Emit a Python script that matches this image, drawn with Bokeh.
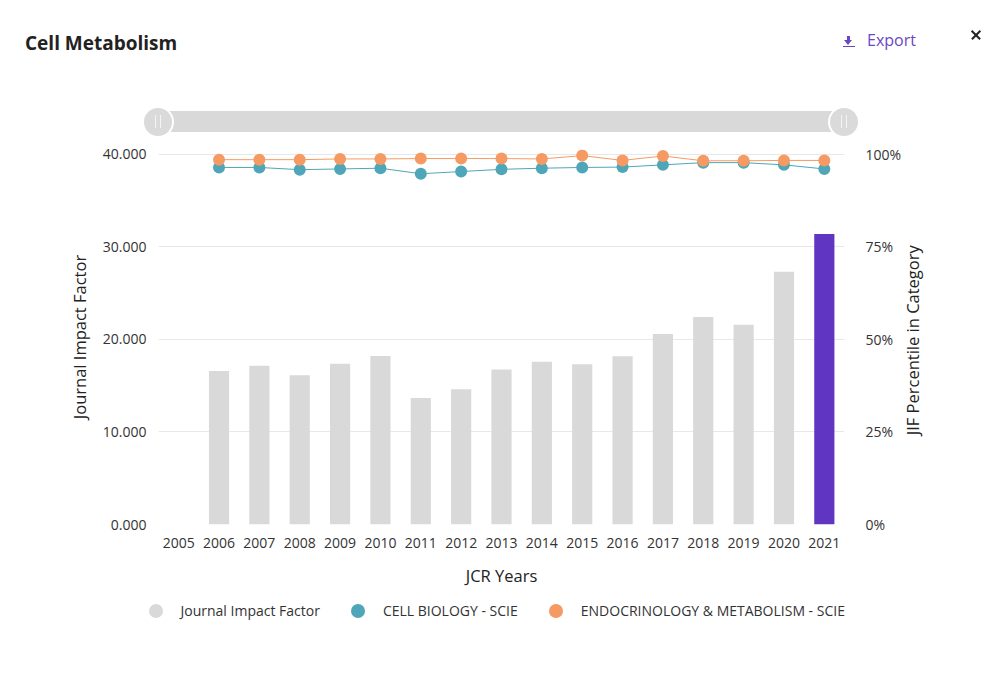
import math
from bokeh.plotting import figure
from bokeh.models import (Range1d, FactorRange, LinearAxis, FixedTicker, NumeralTickFormatter,
                          PrintfTickFormatter, Legend, LegendItem, Div, Label)
from bokeh.layouts import column
from bokeh.embed import file_html
from bokeh.resources import INLINE

# ---------------- data ----------------
years = [str(y) for y in range(2005, 2022)]
data_years = ["2006", "2007", "2008", "2009", "2010", "2011", "2012", "2013",
              "2014", "2015", "2016", "2017", "2018", "2019", "2020", "2021"]
jif = [16.566, 17.148, 16.107, 17.350, 18.207, 13.668, 14.619, 16.747,
       17.565, 17.303, 18.164, 20.565, 22.415, 21.567, 27.287, 31.373]
cell_bio = [96.4, 96.4, 95.8, 96.0, 96.2, 94.7, 95.3, 95.9,
            96.2, 96.4, 96.5, 97.1, 97.7, 97.7, 97.1, 96.0]
endo = [98.5, 98.5, 98.5, 98.7, 98.7, 98.8, 98.8, 98.8,
        98.7, 99.6, 98.3, 99.5, 98.2, 98.2, 98.3, 98.3]
jif_ticks = [0, 10, 20, 30, 40]
pct_ticks = [0, 25, 50, 75, 100]
series_names = ["Journal Impact Factor", "CELL BIOLOGY - SCIE", "ENDOCRINOLOGY & METABOLISM - SCIE"]
title_text = "Cell Metabolism"
right_title = "JIF Percentile in Category"
current_year = "2021"

FONT = "Open Sans"
GRAY = "#d9d9d9"
PURPLE = "#5f35c1"
LINK = "#6b46c4"
TEAL = "#4fa6b8"
ORANGE = "#f59a62"
W = 983

# ---------------- header (title, export, slider) as HTML ----------------
def box(l, t, w, h, extra):
    return (f'<div style="position:absolute;left:{l}px;top:{t}px;width:{w}px;height:{h}px;'
            f'{extra}"></div>')

DX, DY = 3, 4
parts = []
parts.append(f'<div style="position:absolute;left:{20}px;top:{29}px;font-family:\'{FONT}\';'
             f'font-size:19px;line-height:19px;font-weight:bold;color:#222;white-space:nowrap;">'
             f'{title_text}</div>')
parts.append(f'<div style="position:absolute;left:{862}px;top:{27}px;font-family:\'{FONT}\';'
             f'font-size:16px;line-height:16px;color:{LINK};white-space:nowrap;">Export</div>')
# download icon
parts.append(box(839.3 + DX, 27.5 + 3, 2.4, 5, f"background:{LINK};"))
parts.append(f'<div style="position:absolute;left:{836 + DX}px;top:{31.5 + 3}px;width:0;height:0;'
             f'border-left:4.5px solid transparent;border-right:4.5px solid transparent;'
             f'border-top:5px solid {LINK};"></div>')
parts.append(box(834.5 + DX, 37.5 + 3, 12, 1.7, f"background:{LINK};"))
# close icon
for ang in (45, -45):
    parts.append(box(962.5 + 2.5, 26.2 + 3, 12, 1.6,
                     f"background:#222;transform:rotate({ang}deg);transform-origin:center;"))
# range slider
parts.append(box(150 + DX, 102 + DY, 686, 21, "background:#d9d9d9;"))
for cx in (150 + DX, 836 + DX):
    parts.append(box(cx - 16, 97 + DY, 32, 32,
                     "box-sizing:border-box;border:2px solid #fff;border-radius:50%;background:#dadada;"))
    for gx in (cx - 3, cx + 2):
        parts.append(box(gx, 106 + DY, 1, 13, "background:#f4f4f4;"))

header = Div(text='<div style="position:relative;width:983px;height:130px;">' + "".join(parts) + "</div>",
             width=W, height=130)

# ---------------- main chart ----------------
p = figure(width=W, height=456, x_range=FactorRange(factors=years), y_range=Range1d(0, 40.5),
           output_backend="svg", toolbar_location=None,
           min_border_left=158, min_border_right=139, min_border_top=9, min_border_bottom=72,
           outline_line_color=None)
p.extra_y_ranges = {"pct": Range1d(0, 101.25)}

colors = [PURPLE if y == current_year else GRAY for y in data_years]
p.vbar(x=data_years, top=jif, width=0.5, fill_color=colors, line_color=None)

p.line(data_years, cell_bio, line_color=TEAL, line_width=1, y_range_name="pct")
p.scatter(data_years, cell_bio, size=12, fill_color=TEAL, line_color=None, y_range_name="pct")
p.line(data_years, endo, line_color=ORANGE, line_width=1, y_range_name="pct")
p.scatter(data_years, endo, size=12, fill_color=ORANGE, line_color=None, y_range_name="pct")

p.xgrid.visible = False
p.ygrid.ticker = FixedTicker(ticks=jif_ticks)
p.ygrid.grid_line_color = "#e8e8e8"

yl = p.yaxis[0]
yl.ticker = FixedTicker(ticks=jif_ticks)
yl.formatter = NumeralTickFormatter(format="0.000")
yl.axis_label = "Journal Impact Factor"
yl.major_label_standoff = 12
yl.axis_label_standoff = 9

# right axis: percentile tick labels
yr = LinearAxis(y_range_name="pct", ticker=FixedTicker(ticks=pct_ticks),
                formatter=PrintfTickFormatter(format="%d%%"))
yr.major_label_standoff = 21
p.add_layout(yr, "right")

xb = p.xaxis[0]
xb.axis_label = "JCR Years"
xb.major_label_standoff = 13
xb.axis_label_standoff = 13

for ax in (yl, yr, xb):
    ax.axis_line_color = None
    ax.major_tick_line_color = None
    ax.minor_tick_line_color = None
    ax.major_tick_out = 0
    ax.major_tick_in = 0
    ax.major_label_text_font = FONT
    ax.major_label_text_font_size = "14px"
    ax.major_label_text_color = "#333333"
    ax.axis_label_text_font = FONT
    ax.axis_label_text_font_style = "normal"
    ax.axis_label_text_font_size = "16.5px"
    ax.axis_label_text_color = "#222222"

# right-hand axis title, reading bottom-to-top, in its own side panel
rlab = Label(x=8, x_units="screen", y=19.9, y_units="data", text=right_title,
             angle=math.pi / 2, text_align="center", text_baseline="middle",
             text_font=FONT, text_font_size="16.5px", text_color="#222222")
p.add_layout(rlab, "right")

# ---------------- legend (own strip below the chart) ----------------
lf = figure(width=W, height=64, x_range=Range1d(0, 1), y_range=Range1d(0, 1),
            output_backend="svg", toolbar_location=None, min_border=0,
            x_axis_location=None, y_axis_location=None, outline_line_color=None)
lf.grid.visible = False
if "frame_align" in lf.properties():
    lf.frame_align = False
    p.frame_align = False
leg_colors = [GRAY, TEAL, ORANGE]
leg_items = []
for name, c in zip(series_names, leg_colors):
    # proxy marker (kept outside the visible range) used only for its legend swatch
    r = lf.scatter(x=[5], y=[5], size=14, fill_color=c, line_color=None)
    leg_items.append(LegendItem(label=name, renderers=[r]))

legend = Legend(items=leg_items, orientation="horizontal", location=(137.5, 32.5),
                border_line_color=None, background_fill_alpha=0,
                label_text_font=FONT, label_text_font_size="14px", label_text_color="#333333",
                glyph_width=35, glyph_height=35, label_standoff=8, spacing=20,
                padding=0, margin=0)
lf.add_layout(legend, "center")

layout = column(header, p, lf)
open("out.html", "w").write(file_html(layout, INLINE))
